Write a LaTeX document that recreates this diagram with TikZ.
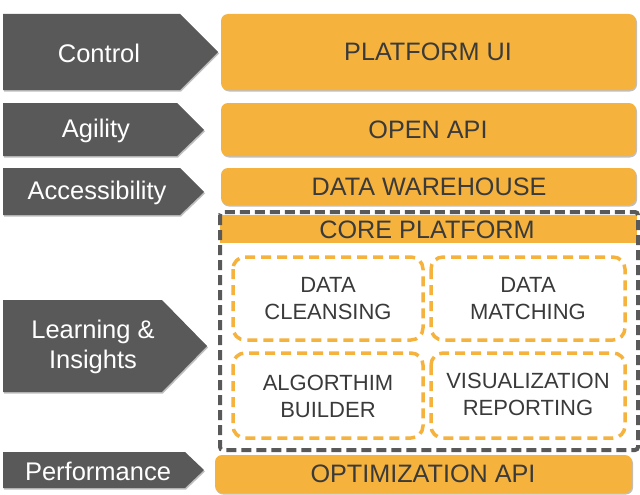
\documentclass[tikz,border=0pt]{standalone}
\usepackage{fontspec}
\setmainfont{Liberation Sans}
\usetikzlibrary{shadows}
\definecolor{org}{HTML}{F5B23C}
\definecolor{dgray}{HTML}{595959}
\definecolor{txt}{HTML}{3A3A3A}
\tikzset{
 shd/.style={drop shadow={shadow xshift=1pt, shadow yshift=-1.5pt, opacity=0.25, fill=black}},
 chev/.style={fill=dgray, shd},
 lbl/.style={text=white, font=\fontsize{25.5}{30}\selectfont, align=center, inner sep=0pt},
 obox/.style={fill=org, rounded corners=7pt, shd},
 otxt/.style={text=txt, font=\fontsize{25.2}{28}\selectfont, inner sep=0pt},
 dbox/.style={draw=org, line width=3.5pt, dash pattern=on 10pt off 6pt, rounded corners=12pt, fill=white},
 frame/.style={draw=dgray, line width=4pt, dash pattern=on 10pt off 5pt, rounded corners=3pt},
 stxt/.style={text=txt, font=\fontsize{22}{27}\selectfont, align=center, inner sep=0pt},
}
\begin{document}
\begin{tikzpicture}[x=1pt,y=-1pt]
\useasboundingbox (0,0) rectangle (640,495);
% chevrons
\fill[chev] (3,14) -- (180,14) -- (218,52) -- (180,90) -- (3,90) -- cycle;
\node[lbl] (control) at (99,53) {Control};
\fill[chev] (3,103) -- (177,103) -- (204,130) -- (177,156) -- (3,156) -- cycle;
\node[lbl] (agility) at (96,131) {Agility};
\fill[chev] (3,168) -- (180,168) -- (204,192) -- (180,215) -- (3,215) -- cycle;
\node[lbl] (access) at (97,193) {Accessibility};
\fill[chev] (3,300) -- (162,300) -- (207,346) -- (162,392) -- (3,392) -- cycle;
\node[lbl] (learn) at (93,347) {Learning \&\\Insights};
\fill[chev] (3,452) -- (185,452) -- (204,470) -- (185,488) -- (3,488) -- cycle;
\node[lbl] (perf) at (98,471) {Performance};
% orange bars
\fill[obox] (221,14) rectangle (636,90);
\node[otxt] (pui) at (428,52) {PLATFORM UI};
\fill[obox] (221,103) rectangle (636,156);
\node[otxt] (oapi) at (428,130) {OPEN API};
\fill[obox] (221,168) rectangle (636,205);
\node[otxt] (dw) at (429,187) {DATA WAREHOUSE};
% core platform
\fill[org] (220,215) rectangle (637,243);
\node[otxt] (core) at (427,230) {CORE PLATFORM};
\draw[frame] (220,212) rectangle (638,450);
% inner dashed boxes
\draw[dbox] (233,257) rectangle (423,340);
\node[stxt] (clean) at (328,299) {DATA\\CLEANSING};
\draw[dbox] (431,257) rectangle (625,340);
\node[stxt] (match) at (528,299) {DATA\\MATCHING};
\draw[dbox] (233,353) rectangle (423,438);
\node[stxt] (algo) at (328,396) {ALGORTHIM\\BUILDER};
\draw[dbox] (431,353) rectangle (625,438);
\node[stxt] (vis) at (528,394) {VISUALIZATION\\REPORTING};
% optimization
\fill[obox] (215,455) rectangle (632,493);
\node[otxt] (opt) at (423,474) {OPTIMIZATION API};
\end{tikzpicture}
\end{document}
